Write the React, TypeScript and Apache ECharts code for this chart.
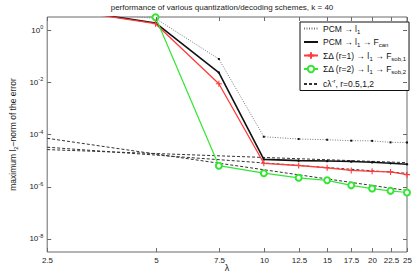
import React, { useEffect, useRef } from "react";
import * as echarts from "echarts";

const lambdas = [2.5, 5, 7.5, 10, 12.5, 15, 17.5, 20, 22.5, 25];
const pcmL1 = [7.1, 2.77, 0.078, 8.2e-5, 6.7e-5, 6.3e-5, 5.8e-5, 5.7e-5, 5.0e-5, 4.97e-5];
const pcmCan = [8.0, 1.87, 0.0236, 1.12e-5, 1.0e-5, 9.6e-6, 9.2e-6, 8.6e-6, 7.9e-6, 7.25e-6];
const sd1 = [7.6, 1.75, 8.8e-3, 7.9e-6, 6.5e-6, 5.3e-6, 4.2e-6, 3.9e-6, 3.7e-6, 2.9e-6];
const sd2 = [20, 3.08, 6.4e-6, 3.3e-6, 2.2e-6, 1.76e-6, 1.13e-6, 8.5e-7, 6.95e-7, 6.0e-7];
const refLambda = [2.5, 25];
const ref05 = [2.64e-5, 8.36e-6];
const ref1 = [3.26e-5, 3.26e-6];
const ref2 = [7.16e-5, 7.16e-7];

const xTicks = [2.5, 5, 7.5, 10, 12.5, 15, 17.5, 20, 22.5, 25];
const xTickLabels = ["2.5", "5", "7.5", "10", "12.5", "15", "17.5", "20", "22.5", "25"];
const yTickExps = [0, -2, -4, -6, -8];

const N1 = "PCM → l1";
const N2 = "PCM → l1 → Fcan";
const N3 = "ΣΔ (r=1) → l1 → Fsob,1";
const N4 = "ΣΔ (r=2) → l1 → Fsob,2";
const N5 = "cλ-r, r=0.5,1,2";

const legendRich: Record<string, string> = {
  [N1]: "{t|PCM → l}{s|1}",
  [N2]: "{t|PCM → l}{s|1}{t| → F}{s|can}",
  [N3]: "{t|ΣΔ (r=1) → l}{s|1}{t| → F}{s|sob,1}",
  [N4]: "{t|ΣΔ (r=2) → l}{s|1}{t| → F}{s|sob,2}",
  [N5]: "{t|cλ}{p|-r}{t|, r=0.5,1,2}",
};

const FONT = '"Liberation Sans", Arial, sans-serif';
const FRAME = "#6a6a6a";

const pairs = (xs: number[], ys: number[]) => xs.map((x, i) => [x, ys[i]]);

export default function App() {
  const ref = useRef<HTMLDivElement>(null);
  useEffect(() => {
    if (!ref.current) return;
    const chart = echarts.init(ref.current, null, { renderer: "svg" });
    const dashed = {
      type: "line",
      name: N5,
      symbol: "none",
      lineStyle: { color: "#333", width: 1, type: [3, 2] },
      itemStyle: { color: "#333" },
      z: 1,
    };
    chart.setOption({
      animation: false,
      textStyle: { fontFamily: FONT },
      title: {
        text: "performance of various quantization/decoding schemes, k = 40",
        left: 222,
        top: 3,
        padding: 0,
        textAlign: "center",
        textStyle: { fontSize: 8, fontWeight: "normal", color: "#222", fontFamily: FONT },
      },
      grid: {
        left: 32,
        top: 17,
        width: 375,
        height: 237,
        show: true,
        borderColor: FRAME,
        borderWidth: 1,
        backgroundColor: "transparent",
      },
      legend: {
        orient: "vertical",
        left: 300,
        top: 22,
        width: 104,
        padding: [2, 3, 2, 3],
        itemGap: 3,
        itemWidth: 14,
        itemHeight: 8,
        backgroundColor: "#fff",
        borderColor: "#111",
        borderWidth: 1,
        borderRadius: 0,
        data: [
          { name: N1, itemStyle: { opacity: 0 } },
          { name: N2, itemStyle: { opacity: 0 } },
          { name: N3 },
          { name: N4 },
          { name: N5, itemStyle: { opacity: 0 } },
        ],
        formatter: (name: string) => legendRich[name] || name,
        textStyle: {
          fontFamily: FONT,
          rich: {
            t: { fontSize: 8.5, lineHeight: 12, color: "#111", fontFamily: FONT },
            s: { fontSize: 6, lineHeight: 6, verticalAlign: "bottom", color: "#111", fontFamily: FONT },
            p: { fontSize: 6, lineHeight: 6, verticalAlign: "top", color: "#111", fontFamily: FONT },
          },
        },
      },
      xAxis: {
        type: "log",
        min: 2.5,
        max: 25,
        name: "λ",
        nameLocation: "middle",
        nameGap: 11,
        nameTextStyle: { fontSize: 9, color: "#222", fontFamily: FONT },
        axisLine: { show: false },
        axisTick: { show: false },
        axisLabel: { show: false },
        splitLine: { show: false },
        minorTick: { show: false },
      },
      yAxis: {
        type: "log",
        min: Math.pow(10, -8.5),
        max: Math.pow(10, 0.5),
        name: "{t|maximum l}{s|2}{t|–norm of the error}",
        nameLocation: "middle",
        nameRotate: 90,
        nameGap: 18,
        nameTextStyle: {
          fontFamily: FONT,
          rich: {
            t: { fontSize: 8.5, lineHeight: 12, color: "#222", fontFamily: FONT },
            s: { fontSize: 6, lineHeight: 6, verticalAlign: "bottom", color: "#222", fontFamily: FONT },
          },
        },
        axisLine: { show: false },
        axisTick: { show: false },
        splitLine: { show: false },
        axisLabel: {
          margin: 4,
          formatter: (v: number) => {
            const e = Math.log10(v);
            const r = Math.round(e);
            if (Math.abs(e - r) > 1e-6 || !yTickExps.includes(r)) return "";
            return "{b|10}{p|" + r + "}";
          },
          rich: {
            b: { fontSize: 8, lineHeight: 12, color: "#222", fontFamily: FONT },
            p: { fontSize: 5.5, lineHeight: 6, verticalAlign: "top", color: "#222", fontFamily: FONT },
          },
        },
      },
      series: [
        { ...dashed, data: pairs(refLambda, ref05) },
        { ...dashed, data: pairs(refLambda, ref1) },
        { ...dashed, data: pairs(refLambda, ref2) },
        {
          type: "line",
          name: N1,
          data: pairs(lambdas, pcmL1),
          symbol: "rect",
          symbolSize: 2,
          lineStyle: { color: "#777", width: 1, type: [1, 1.5] },
          itemStyle: { color: "#111" },
          z: 2,
        },
        {
          type: "line",
          name: N2,
          data: pairs(lambdas, pcmCan),
          symbol: "circle",
          symbolSize: 2.5,
          lineStyle: { color: "#111", width: 1.6 },
          itemStyle: { color: "#111" },
          z: 3,
        },
        {
          type: "line",
          name: N3,
          data: pairs(lambdas, sd1),
          symbol: "path://M0,5L10,5M5,0L5,10",
          symbolSize: 6,
          lineStyle: { color: "#ff3b3b", width: 1.3 },
          itemStyle: { color: "#ff3b3b", borderColor: "#ff3b3b", borderWidth: 1.1 },
          z: 4,
        },
        {
          type: "line",
          name: N4,
          data: pairs(lambdas, sd2),
          symbol: "emptyCircle",
          symbolSize: 6,
          lineStyle: { color: "#33e633", width: 1.2 },
          itemStyle: { color: "#33e633", borderColor: "#33e633", borderWidth: 1.1 },
          z: 5,
        },
        {
          type: "custom",
          name: "xticks",
          coordinateSystem: "cartesian2d",
          silent: true,
          clip: false,
          data: xTicks.map((v) => [v, 1]),
          renderItem: (params: any, api: any) => {
            const cs = params.coordSys;
            const x = Math.round(api.coord([api.value(0), 1])[0]) + 0.5;
            const yb = cs.y + cs.height;
            const yt = cs.y;
            return {
              type: "group",
              children: [
                { type: "line", shape: { x1: x, y1: yb, x2: x, y2: yb - 4 }, style: { stroke: FRAME, lineWidth: 1 } },
                { type: "line", shape: { x1: x, y1: yt, x2: x, y2: yt + 4 }, style: { stroke: FRAME, lineWidth: 1 } },
                {
                  type: "text",
                  x: x,
                  y: yb + 8,
                  style: {
                    text: xTickLabels[params.dataIndex],
                    fill: "#222",
                    font: "8px " + FONT,
                    align: "center",
                    verticalAlign: "middle",
                  },
                },
              ],
            };
          },
          z: 10,
        },
        {
          type: "custom",
          name: "yticks",
          coordinateSystem: "cartesian2d",
          silent: true,
          clip: false,
          data: yTickExps.map((e) => [2.5, Math.pow(10, e)]),
          renderItem: (params: any, api: any) => {
            const cs = params.coordSys;
            const y = Math.round(api.coord([2.5, api.value(1)])[1]) + 0.5;
            const xl = cs.x;
            const xr = cs.x + cs.width;
            return {
              type: "group",
              children: [
                { type: "line", shape: { x1: xl, y1: y, x2: xl + 4, y2: y }, style: { stroke: FRAME, lineWidth: 1 } },
                { type: "line", shape: { x1: xr, y1: y, x2: xr - 4, y2: y }, style: { stroke: FRAME, lineWidth: 1 } },
              ],
            };
          },
          z: 10,
        },
      ],
    });
    return () => chart.dispose();
  }, []);
  return (
    <div
      ref={ref}
      style={{ position: "absolute", left: 0, top: 0, width: 415, height: 277, background: "#fff" }}
    />
  );
}
